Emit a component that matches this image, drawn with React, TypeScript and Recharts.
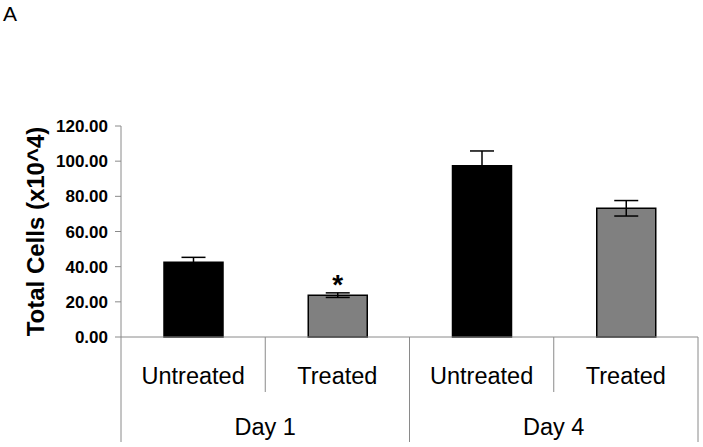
import { Bar, BarChart, Cell, ErrorBar, LabelList, XAxis, YAxis } from 'recharts';

const days = ['Day 1', 'Day 1', 'Day 4', 'Day 4'];
const treatments = ['Untreated', 'Treated', 'Untreated', 'Treated'];
const totals = [42.5, 23.8, 97.4, 73.2];
const errors = [2.8, 1.3, 8.4, 4.4];
const marks = ['', '*', '', ''];
const yTicks = [0, 20, 40, 60, 80, 100, 120];

const data = treatments.map((treatment, i) => ({
    day: days[i],
    treatment,
    total: totals[i],
    err: errors[i],
    mark: marks[i],
}));

const WIDTH = 703;
const HEIGHT = 447;
const MARGIN = { top: 126, right: 5, bottom: 0, left: 0 };
const Y_AXIS_W = 121;
const TREAT_AXIS_H = 55;
const DAY_AXIS_H = 55;
const PLOT_W = WIDTH - MARGIN.left - MARGIN.right - Y_AXIS_W;
const TREAT_BAND = PLOT_W / treatments.length;
const DAY_BAND = PLOT_W / new Set(days).size;

const FONT = '"Liberation Sans", Arial, sans-serif';
const LINE = '#8a8a8a';

function TreatmentTick({ x, y, payload, index }: any) {
    // short separator between the two treatments of the same day
    const showSep = index % 2 === 0;
    return (
        <g>
            <text x={x} y={y + 47} textAnchor="middle" fontFamily={FONT} fontSize={23.5} fill="#000">
                {payload.value}
            </text>
            {showSep && <line x1={x + TREAT_BAND / 2} x2={x + TREAT_BAND / 2} y1={y} y2={y + TREAT_AXIS_H} stroke={LINE} strokeWidth={1} />}
        </g>
    );
}

function DayTick({ x, y, payload }: any) {
    const top = y - TREAT_AXIS_H;
    const bottom = y + DAY_AXIS_H - 5;
    return (
        <g>
            <text x={x} y={y + 43} textAnchor="middle" fontFamily={FONT} fontSize={23.5} fill="#000">
                {payload.value}
            </text>
            <line x1={x - DAY_BAND / 2} x2={x - DAY_BAND / 2} y1={top} y2={bottom} stroke={LINE} strokeWidth={1} />
            <line x1={x + DAY_BAND / 2} x2={x + DAY_BAND / 2} y1={top} y2={bottom} stroke={LINE} strokeWidth={1} />
        </g>
    );
}

function YLabel({ viewBox }: any) {
    const cx = viewBox.x + 35;
    const cy = viewBox.y + viewBox.height / 2;
    return (
        <text
            x={cx}
            y={cy}
            transform={`rotate(-90, ${cx}, ${cy})`}
            textAnchor="middle"
            dominantBaseline="central"
            fontFamily={FONT}
            fontWeight="bold"
            fontSize={24}
            fill="#000"
        >
            Total Cells (x10^4)
        </text>
    );
}

export default function App() {
    return (
        <div style={{ position: 'absolute', left: 0, top: 0, width: WIDTH, height: HEIGHT, background: '#fff' }}>
            <svg width={40} height={40} style={{ position: 'absolute', left: 0, top: 0 }}>
                <text x={3} y={21} fontFamily={FONT} fontSize={21} fill="#000">
                    A
                </text>
            </svg>
            <BarChart width={WIDTH} height={HEIGHT} data={data} margin={MARGIN}>
                <XAxis
                    dataKey="treatment"
                    height={TREAT_AXIS_H}
                    axisLine={{ stroke: LINE }}
                    tickLine={false}
                    tickSize={0}
                    tickMargin={0}
                    interval={0}
                    tick={<TreatmentTick />}
                />
                <XAxis
                    xAxisId="day"
                    dataKey="day"
                    allowDuplicatedCategory={false}
                    height={DAY_AXIS_H}
                    axisLine={false}
                    tickLine={false}
                    tickSize={0}
                    tickMargin={0}
                    interval={0}
                    tick={<DayTick />}
                />
                <YAxis
                    width={Y_AXIS_W}
                    domain={[0, 120]}
                    ticks={yTicks}
                    interval={0}
                    axisLine={{ stroke: LINE }}
                    tickLine={{ stroke: LINE }}
                    tickSize={6}
                    tickMargin={7}
                    tickFormatter={(v: number) => v.toFixed(2)}
                    tick={{ fill: '#000', fontSize: 17, fontWeight: 'bold', fontFamily: FONT }}
                    label={<YLabel />}
                />
                <Bar dataKey="total" barSize={59} stroke="#000" strokeWidth={1.5} isAnimationActive={false}>
                    {data.map((d, i) => (
                        <Cell key={i} fill={d.treatment === 'Treated' ? '#808080' : '#000'} />
                    ))}
                    <ErrorBar dataKey="err" width={12} stroke="#000" strokeWidth={1.5} direction="y" />
                    <LabelList
                        dataKey="mark"
                        position="top"
                        offset={1}
                        fill="#000"
                        fontSize={28}
                        fontWeight="bold"
                        fontFamily={FONT}
                    />
                </Bar>
            </BarChart>
        </div>
    );
}
